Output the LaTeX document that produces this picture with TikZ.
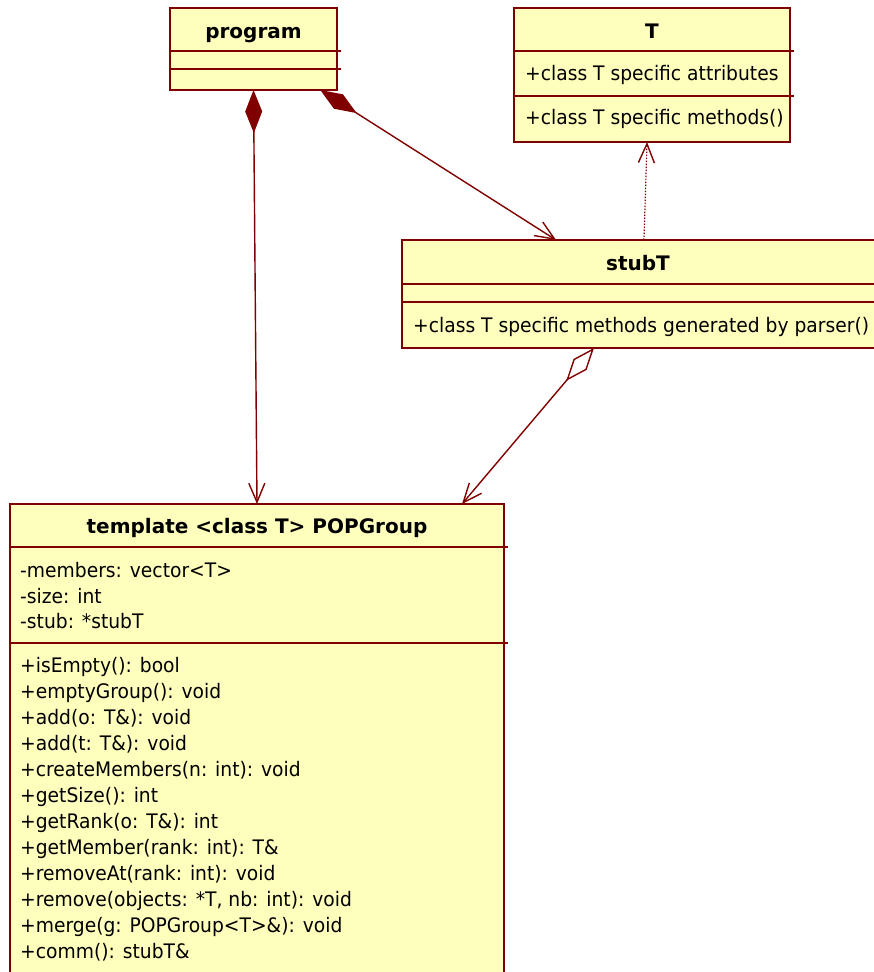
\documentclass[tikz,border=0pt]{standalone}
\usepackage{fontspec}
\setmainfont[FakeStretch=0.935]{DejaVu Sans}
\newfontfamily\ttlfont{DejaVu Sans}
\usetikzlibrary{arrows.meta,calc}
\definecolor{umlfill}{RGB}{255,255,189}
\definecolor{umlline}{RGB}{128,0,0}
\begin{document}
\begin{tikzpicture}[x=1pt,y=-1pt,
  box/.style={draw=umlline,fill=umlfill,line width=1.8pt,inner sep=0pt,outer sep=0pt,anchor=north west},
  sepline/.style={draw=umlline,line width=1.6pt},
  txt/.style={anchor=base west,inner sep=0pt,font=\fontsize{20}{22}\selectfont},
  ttl/.style={anchor=base,inner sep=0pt,font=\ttlfont\fontsize{20}{22}\selectfont\bfseries},
  conn/.style={draw=umlline,line width=1.4pt},
  barb/.tip={Straight Barb[length=19pt,width=16pt,line width=1.4pt]},
  fdia/.tip={Diamond[length=43pt,width=17pt]},
  odia/.tip={Diamond[open,length=43pt,width=17pt,line width=1.4pt]}
]
\useasboundingbox (0,0) rectangle (874,972);

% boxes
\node[box,minimum width=167pt,minimum height=82pt] (prog) at (170,8) {};
\node[box,minimum width=276pt,minimum height=134pt] (tcls) at (514,8) {};
\node[box,minimum width=474pt,minimum height=108pt] (stub) at (402,240) {};
\node[box,minimum width=494pt,minimum height=472pt] (pop) at (10,504) {};

% compartment lines
\draw[sepline] (170,51) -- (341,51);
\draw[sepline] (170,69) -- (341,69);
\draw[sepline] (514,51) -- (794,51);
\draw[sepline] (514,96) -- (794,96);
\draw[sepline] (402,284) -- (876,284);
\draw[sepline] (402,302) -- (876,302);
\draw[sepline] (10,547) -- (508,547);
\draw[sepline] (10,643) -- (508,643);

% titles
\node[ttl] (progname) at (253.5,38) {program};
\node[ttl] (tname) at (652,38) {T};
\node[ttl] (stubname) at (638,270) {stubT};
\node[ttl] (popname) at (257,533) {template <class T> POPGroup};

% T members
\node[txt] (ta) at (525,80) {+class T specific attributes};
\node[txt] (tm) at (525,124) {+class T specific methods()};
% stubT members
\node[txt] (sm) at (413,332) {+class T specific methods generated by parser()};
% POPGroup attributes
\node[txt] (pa1) at (20,577) {-members: vector<T>};
\node[txt] (pa2) at (20,603) {-size: int};
\node[txt] (pa3) at (20,628) {-stub: *stubT};
% POPGroup methods
\node[txt] (pm1) at (20,672) {+isEmpty(): bool};
\node[txt] (pm2) at (20,698) {+emptyGroup(): void};
\node[txt] (pm3) at (20,724) {+add(o: T\&): void};
\node[txt] (pm4) at (20,750) {+add(t: T\&): void};
\node[txt] (pm5) at (20,776) {+createMembers(n: int): void};
\node[txt] (pm6) at (20,802) {+getSize(): int};
\node[txt] (pm7) at (20,828) {+getRank(o: T\&): int};
\node[txt] (pm8) at (20,854) {+getMember(rank: int): T\&};
\node[txt] (pm9) at (20,880) {+removeAt(rank: int): void};
\node[txt] (pm10) at (20,906) {+remove(objects: *T, nb: int): void};
\node[txt] (pm11) at (20,932) {+merge(g: POPGroup<T>\&): void};
\node[txt] (pm12) at (20,958) {+comm(): stubT\&};

% connectors
\draw[conn,fdia-barb] (prog.south) -- (pop.north);
\draw[conn,fdia-barb] ($(prog.south west)!0.9!(prog.south east)$) -- ($(stub.north west)!0.325!(stub.north east)$);
\draw[conn,line width=1.2pt,dash pattern=on 1.5pt off 1.5pt,-barb] ($(stub.north west)!0.5105!(stub.north east)$) -- ($(tcls.south west)!0.482!(tcls.south east)$);
\draw[conn,odia-barb] ($(stub.south west)!0.405!(stub.south east)$) -- ($(pop.north west)!0.915!(pop.north east)$);
\end{tikzpicture}
\end{document}
